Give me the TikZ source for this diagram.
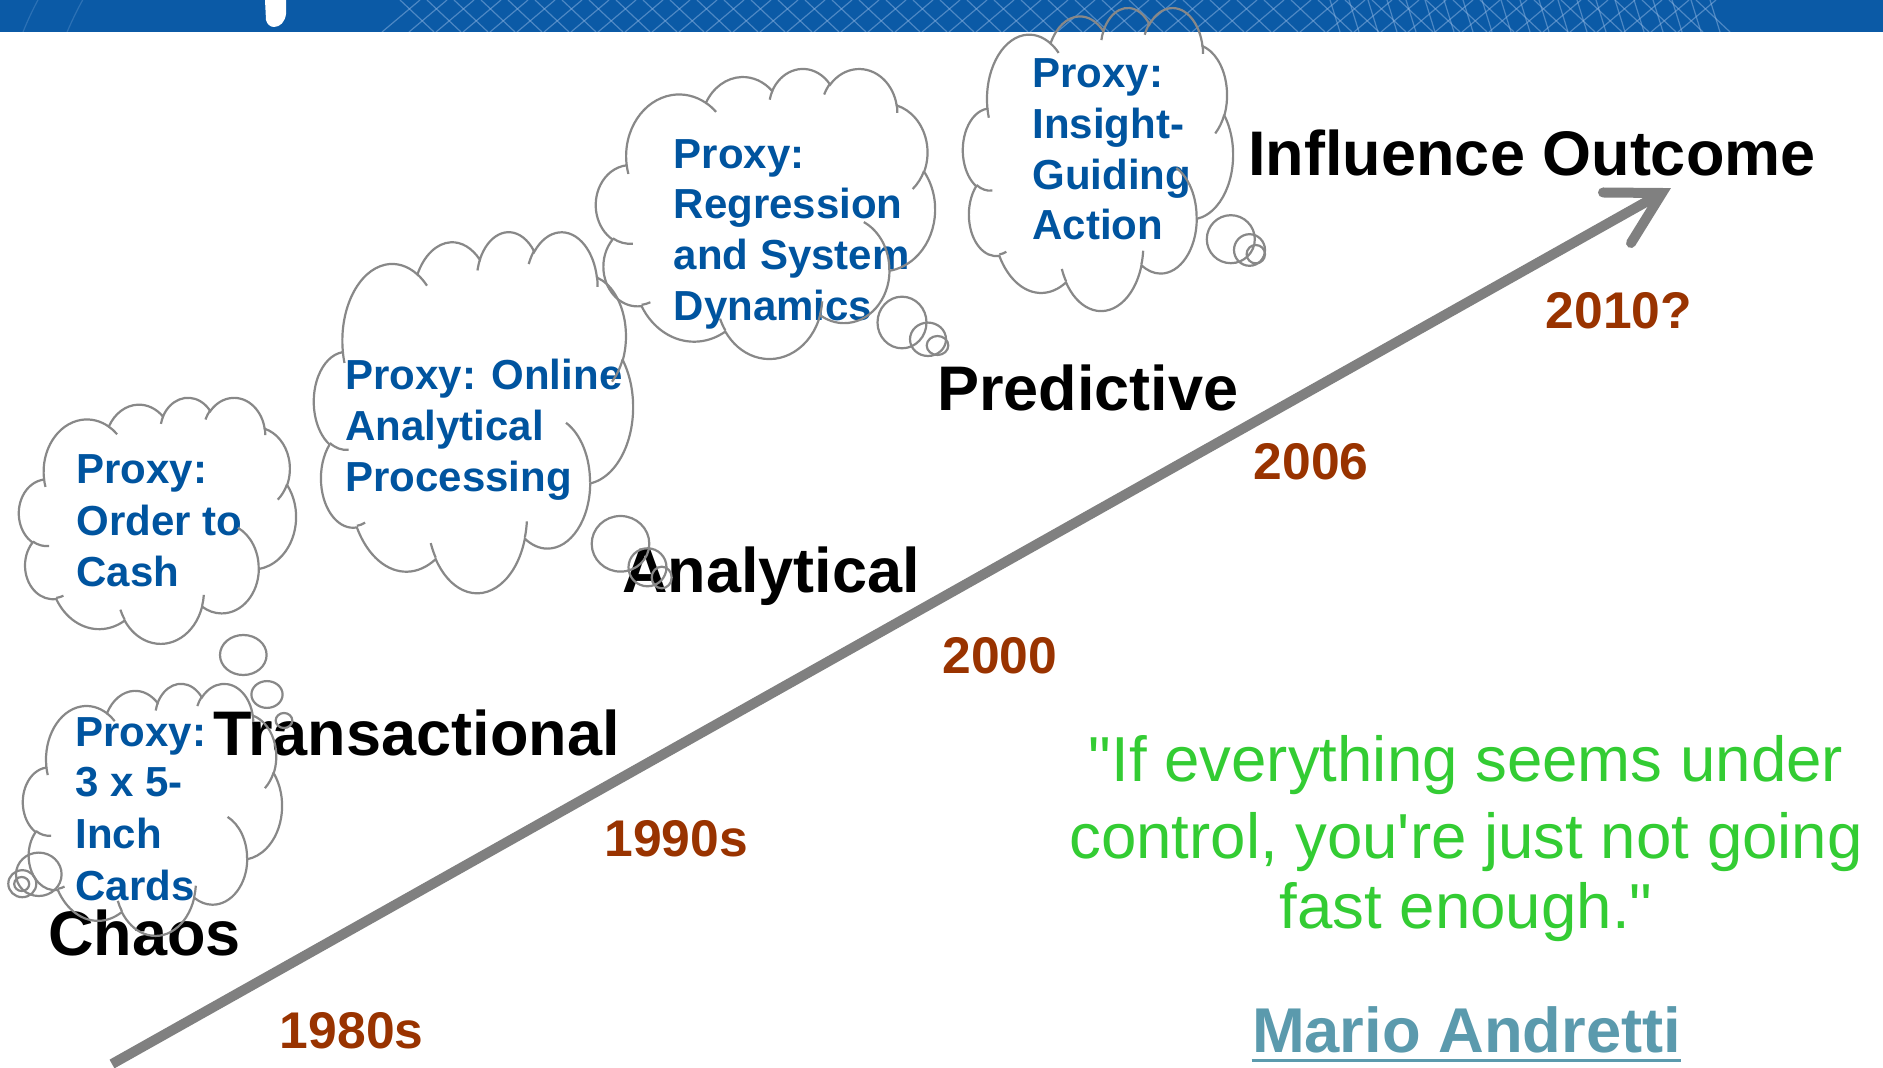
\documentclass[tikz,border=0pt]{standalone}
\usepackage{fontspec}
\setmainfont{Liberation Sans}
\usetikzlibrary{calc}
\definecolor{bannerblue}{HTML}{0B5AA6}
\definecolor{meshblue}{HTML}{8FB6E2}
\definecolor{yearred}{HTML}{993300}
\definecolor{proxyblue}{HTML}{00549F}
\definecolor{cloudgray}{HTML}{888888}
\definecolor{arrowgray}{HTML}{808080}
\definecolor{quotegreen}{HTML}{33CC33}
\definecolor{mariocol}{HTML}{5B9AAD}
\tikzset{
  cloudline/.style={draw=cloudgray, line width=1.1pt},
  arrowline/.style={draw=arrowgray, line width=5pt},
  meshline/.style={draw=meshblue, line width=0.6pt, opacity=0.5},
  lbl/.style={font=\bfseries\fontsize{31.5}{31.5}\selectfont, text=black, inner sep=0pt, anchor=base},
  yr/.style={font=\bfseries\fontsize{25.8}{25.8}\selectfont, text=yearred, inner sep=0pt, anchor=base},
  ctext/.style={font=\bfseries\fontsize{21}{21}\selectfont, text=proxyblue, inner sep=0pt, anchor=base west},
  quotetext/.style={font=\fontsize{31.8}{31.8}\selectfont, text=quotegreen, inner sep=0pt, anchor=base},
}
% PowerPoint cloud callout body, grid 432 x 432
\newcommand\pptcloud[4]{%
\begin{scope}[shift={(#1,#2)}, xscale=#3/432, yscale=#4/432]
 \draw[cloudline] (39.00,143.70)
   arc[start angle=-187.745, end angle=-59.63, x radius=67.53, y radius=91.90]
   arc[start angle=-152.02, end angle=-45.44, x radius=53.33, y radius=72.67]
   arc[start angle=-153.50, end angle=-37.32, x radius=43.65, y radius=59.45]
   arc[start angle=-139.70, end angle=-10.21, x radius=48.57, y radius=65.95]
   arc[start angle=-74.77, end angle=23.21, x radius=53.33, y radius=72.73]
   arc[start angle=-37.52, end angle=81.86, x radius=67.75, y radius=92.20]
   arc[start angle=0.46, end angle=121.98, x radius=57.85, y radius=78.67]
   arc[start angle=16.85, end angle=146.23, x radius=67.52, y radius=92.15]
   arc[start angle=58.98, end angle=150.19, x radius=77.20, y radius=105.43]
   arc[start angle=83.31, end angle=223.11, x radius=43.60, y radius=59.18]
   arc[start angle=120.35, end angle=264.11, x radius=43.45, y radius=59.45]
   -- cycle;
 \draw[cloudline]
   (46.93,261.77) arc[start angle=85.55, end angle=120.35, x radius=43.45, y radius=59.45]
   (69.28,348.99) arc[start angle=68.23, end angle=83.31, x radius=43.60, y radius=59.18]
   (164.78,390.90) arc[start angle=146.23, end angle=158.47, x radius=67.52, y radius=92.15]
   (288.27,347.51) arc[start angle=4.74, end angle=16.85, x radius=67.52, y radius=92.15]
   (341.29,229.54) arc[start angle=-64.03, end angle=0.46, x radius=57.85, y radius=78.67]
   (417.98,153.54) arc[start angle=23.21, end angle=49.63, x radius=53.33, y radius=72.73]
   (383.24,54.26) arc[start angle=-10.21, end angle=0.82, x radius=48.57, y radius=65.95]
   (290.78,39.52) arc[start angle=-156.29, end angle=-139.70, x radius=48.57, y radius=65.95]
   (221.41,47.20) arc[start angle=-167.73, end angle=-153.50, x radius=43.65, y radius=59.45]
   (140.00,51.92) arc[start angle=-59.63, end angle=-45.72, x radius=67.53, y radius=91.90]
   (41.27,157.89) arc[start angle=163.19, end angle=172.26, x radius=67.53, y radius=91.90];
\end{scope}}
\newcommand\bubble[4]{\draw[cloudline] (#1,#2) ellipse[x radius=#3, y radius=#4];}
\begin{document}
\begin{tikzpicture}[x=0.5pt, y=-0.5pt]
\useasboundingbox (0,0) rectangle (1883,1068);
\fill[white] (0,0) rectangle (1883,1068);
% banner
\fill[bannerblue] (0,0) rectangle (1883,32);
\begin{scope}
  \clip (0,0) rectangle (1883,32);
  \foreach \i in {0,...,48} { \draw[meshline] ({420+\i*27},0) -- ++(-38,32); }
  \foreach \i in {0,...,48} { \draw[meshline] ({400+\i*27},0) -- ++(34,32); }
  \foreach \i in {0,...,20} { \draw[meshline] ({1330+\i*19},0) -- ++(10,32); }
  \draw[meshline, opacity=0.25] (20,40) arc[start angle=200, end angle=300, radius=300];
  \draw[meshline, opacity=0.25] (60,50) arc[start angle=200, end angle=300, radius=360];
  % fragment of a cropped title glyph
  \fill[white] (265,0) -- (286,0) -- (286,14) .. controls (285,22) and (280,27) .. (274,27)
     .. controls (270,27) and (267,24) .. (266,20) -- cycle;
\end{scope}
% arrow
\coordinate (arrStart) at (112,1064);
\coordinate (arrTip) at (1662,193);
\coordinate (barbUp) at (1603,192.5);
\coordinate (barbDn) at (1631,243);
\draw[arrowline, shorten >=2pt] (arrStart) -- (arrTip);
\draw[arrowline, line cap=round, line join=miter] (barbUp) -- (arrTip) -- (barbDn);
% stage labels
\node[lbl] (influence) at (1532,176) {Influence Outcome};
\node[lbl] (predictive) at (1087.8,410.7) {Predictive};
\node[lbl] (analytical) at (771,592.7) {Analytical};
\node[lbl] (transactional) at (416.5,755) {Transactional};
\node[lbl] (chaos) at (144.7,955) {Chaos};
% years
\node[yr] (y2010) at (1618.8,328.3) {2010?};
\node[yr] (y2006) at (1311.3,480) {2006};
\node[yr] (y2000) at (999.8,673.3) {2000};
\node[yr] (y1990) at (676.3,856.7) {1990s};
\node[yr] (y1980) at (351.7,1048.3) {1980s};
% quote
\node[quotetext] (q1) at (1466,781.7) {\textquotedbl If everything seems under};
\node[quotetext] (q2) at (1466,858.3) {control, you\textquotesingle re just not going};
\node[quotetext] (q3) at (1466,928.3) {fast enough.\textquotedbl};
\node[lbl, font=\bfseries\fontsize{31.65}{31.65}\selectfont, text=mariocol] (mario) at (1466.5,1052.7) {Mario Andretti};
\draw[mariocol, line width=1.7pt] ($(mario.base west)+(0,7.5)$) -- ($(mario.base east)+(0,7.5)$);
% cloud texts
\node[ctext] (c1a) at (76,484) {Proxy:};
\node[ctext] (c1b) at (76,535.5) {Order to};
\node[ctext] (c1c) at (76,587) {Cash};
\node[ctext] (c2a) at (75,746.7) {Proxy:};
\node[ctext] (c2b) at (75,796.7) {3 x 5-};
\node[ctext] (c2c) at (75,848.3) {Inch};
\node[ctext] (c2d) at (75,900) {Cards};
\node[ctext] (c3a) at (345,390) {Proxy: Online};
\node[ctext] (c3b) at (345,440.7) {Analytical};
\node[ctext] (c3c) at (345,491.7) {Processing};
\node[ctext] (c4a) at (673.5,168.3) {Proxy:};
\node[ctext] (c4b) at (673.5,218.3) {Regression};
\node[ctext] (c4c) at (673.5,270) {and System};
\node[ctext] (c4d) at (673.5,320.7) {Dynamics};
\node[ctext] (c5a) at (1032,87.3) {Proxy:};
\node[ctext] (c5b) at (1032,138.3) {Insight-};
\node[ctext] (c5c) at (1032,189.3) {Guiding};
\node[ctext] (c5d) at (1032,240) {Action};
% clouds
\pptcloud{19}{397}{277}{246}
\bubble{243.3}{655}{23.3}{20}
\bubble{267}{694.5}{15.6}{13.4}
\bubble{284}{720.5}{8.3}{7.5}
\pptcloud{23}{683}{259}{252}
\bubble{38.8}{874.3}{22.8}{21.7}
\bubble{22.3}{883.7}{14}{13.5}
\bubble{21.7}{884}{7.5}{7}
\pptcloud{314}{231}{319}{361}
\bubble{620.5}{543.8}{28.8}{27.8}
\bubble{647.5}{567.3}{19}{19}
\bubble{661.7}{577.5}{10}{10.8}
\pptcloud{596}{68}{339}{290}
\bubble{902}{322.5}{24.5}{25.8}
\bubble{928}{339.3}{18}{16.7}
\bubble{937.5}{345.5}{10.8}{9.5}
\pptcloud{963}{7}{270}{303}
\bubble{1230.8}{239.2}{24}{24}
\bubble{1249.5}{250}{15.5}{15.8}
\bubble{1255.8}{254.2}{9.2}{9.2}
\end{tikzpicture}
\end{document}
